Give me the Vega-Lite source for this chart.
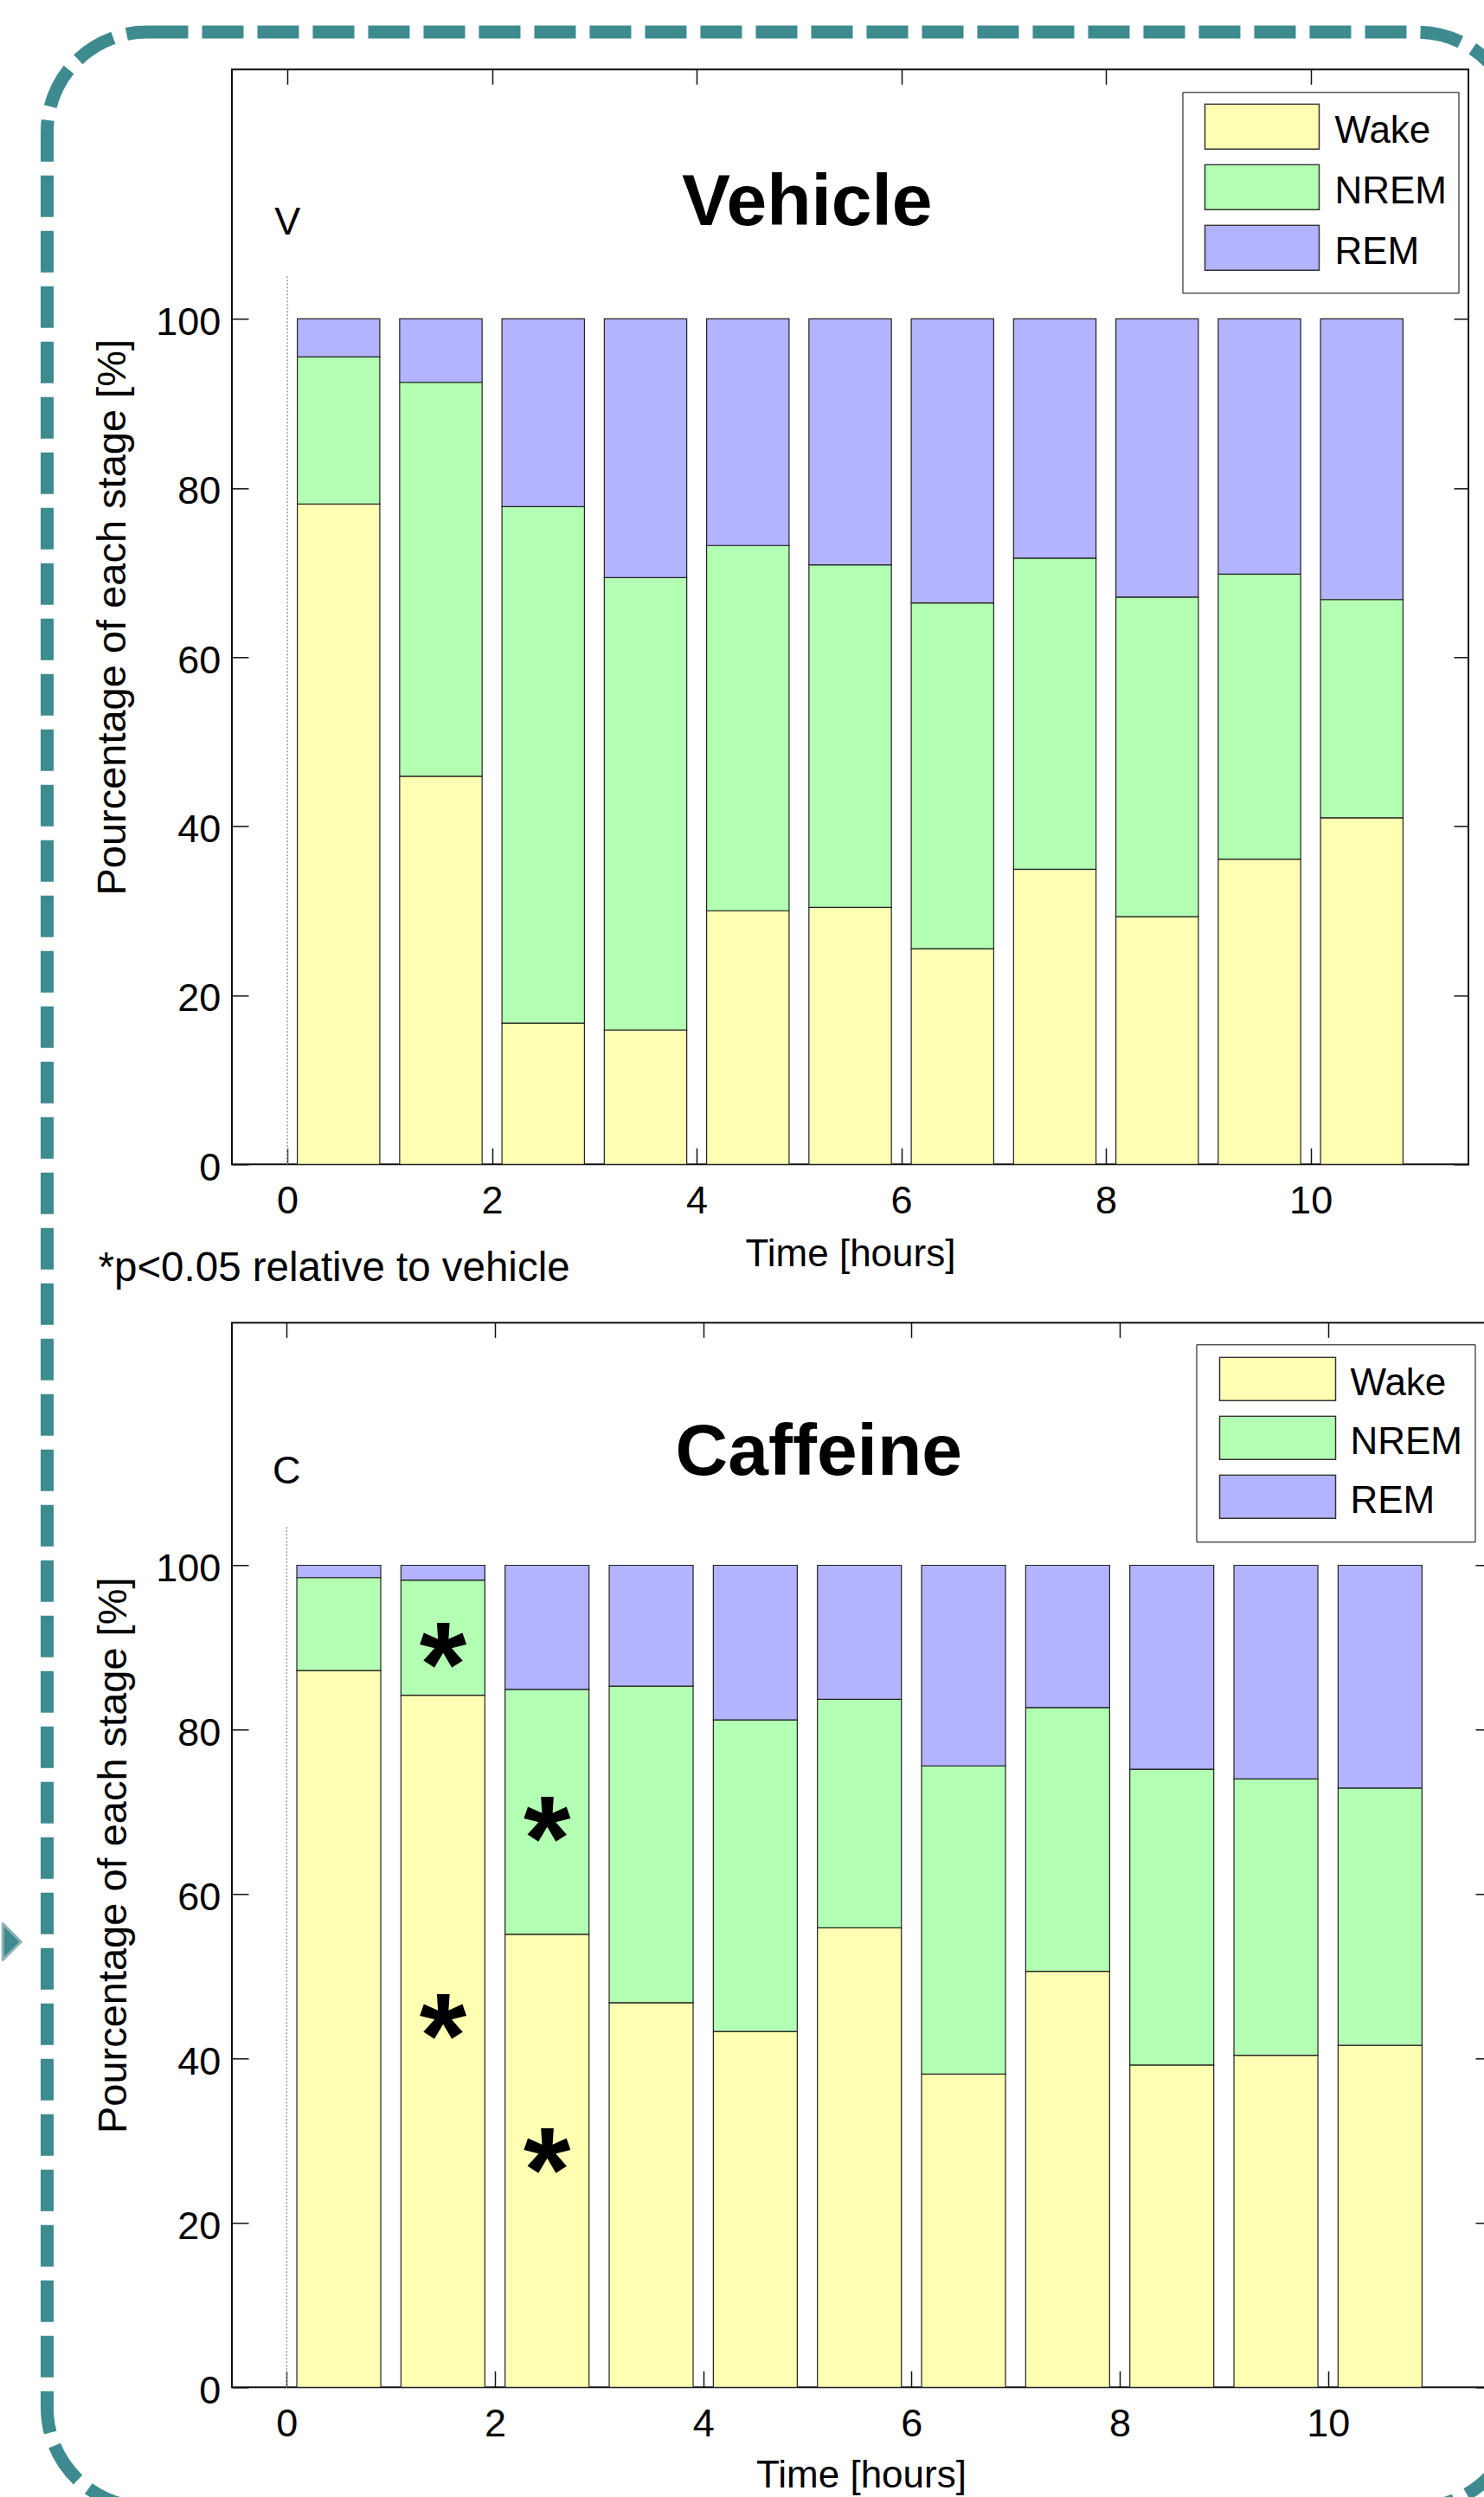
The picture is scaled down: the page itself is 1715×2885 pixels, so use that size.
{
  "$schema": "https://vega.github.io/schema/vega-lite/v6.json",
  "background": "white",
  "padding": {"left": 0, "top": 28.3, "right": 0, "bottom": 0},
  "autosize": {"type": "pad"},
  "bounds": "flush",
  "spacing": 183,
  "config": {
    "font": "Liberation Sans",
    "view": {"stroke": "#111", "strokeWidth": 2},
    "axis": {"labelFont": "Liberation Sans", "titleFont": "Liberation Sans", "labelColor": "black", "titleColor": "black", "titleFontWeight": "normal", "tickColor": "#111", "tickWidth": 1.5, "grid": false, "domain": false, "labelFontSize": 45, "labelFlush": false, "labelOverlap": false},
    "legend": {"labelFont": "Liberation Sans", "labelColor": "black"},
    "text": {"font": "Liberation Sans", "color": "black"}
  },
  "datasets": {
    "vehicle": [
      {"hour":0.5,"stage":"Wake","pct":78.1,"k":0},{"hour":0.5,"stage":"NREM","pct":17.4,"k":1},{"hour":0.5,"stage":"REM","pct":4.5,"k":2},
      {"hour":1.5,"stage":"Wake","pct":45.9,"k":0},{"hour":1.5,"stage":"NREM","pct":46.6,"k":1},{"hour":1.5,"stage":"REM","pct":7.5,"k":2},
      {"hour":2.5,"stage":"Wake","pct":16.7,"k":0},{"hour":2.5,"stage":"NREM","pct":61.1,"k":1},{"hour":2.5,"stage":"REM","pct":22.2,"k":2},
      {"hour":3.5,"stage":"Wake","pct":15.9,"k":0},{"hour":3.5,"stage":"NREM","pct":53.5,"k":1},{"hour":3.5,"stage":"REM","pct":30.6,"k":2},
      {"hour":4.5,"stage":"Wake","pct":30.0,"k":0},{"hour":4.5,"stage":"NREM","pct":43.2,"k":1},{"hour":4.5,"stage":"REM","pct":26.8,"k":2},
      {"hour":5.5,"stage":"Wake","pct":30.4,"k":0},{"hour":5.5,"stage":"NREM","pct":40.5,"k":1},{"hour":5.5,"stage":"REM","pct":29.1,"k":2},
      {"hour":6.5,"stage":"Wake","pct":25.5,"k":0},{"hour":6.5,"stage":"NREM","pct":40.9,"k":1},{"hour":6.5,"stage":"REM","pct":33.6,"k":2},
      {"hour":7.5,"stage":"Wake","pct":34.9,"k":0},{"hour":7.5,"stage":"NREM","pct":36.8,"k":1},{"hour":7.5,"stage":"REM","pct":28.3,"k":2},
      {"hour":8.5,"stage":"Wake","pct":29.3,"k":0},{"hour":8.5,"stage":"NREM","pct":37.8,"k":1},{"hour":8.5,"stage":"REM","pct":32.9,"k":2},
      {"hour":9.5,"stage":"Wake","pct":36.1,"k":0},{"hour":9.5,"stage":"NREM","pct":33.7,"k":1},{"hour":9.5,"stage":"REM","pct":30.2,"k":2},
      {"hour":10.5,"stage":"Wake","pct":41.0,"k":0},{"hour":10.5,"stage":"NREM","pct":25.8,"k":1},{"hour":10.5,"stage":"REM","pct":33.2,"k":2}
    ],
    "caffeine": [
      {"hour":0.5,"stage":"Wake","pct":87.2,"k":0},{"hour":0.5,"stage":"NREM","pct":11.3,"k":1},{"hour":0.5,"stage":"REM","pct":1.5,"k":2},
      {"hour":1.5,"stage":"Wake","pct":84.2,"k":0},{"hour":1.5,"stage":"NREM","pct":14.0,"k":1},{"hour":1.5,"stage":"REM","pct":1.8,"k":2},
      {"hour":2.5,"stage":"Wake","pct":55.1,"k":0},{"hour":2.5,"stage":"NREM","pct":29.8,"k":1},{"hour":2.5,"stage":"REM","pct":15.1,"k":2},
      {"hour":3.5,"stage":"Wake","pct":46.8,"k":0},{"hour":3.5,"stage":"NREM","pct":38.5,"k":1},{"hour":3.5,"stage":"REM","pct":14.7,"k":2},
      {"hour":4.5,"stage":"Wake","pct":43.3,"k":0},{"hour":4.5,"stage":"NREM","pct":37.9,"k":1},{"hour":4.5,"stage":"REM","pct":18.8,"k":2},
      {"hour":5.5,"stage":"Wake","pct":55.9,"k":0},{"hour":5.5,"stage":"NREM","pct":27.8,"k":1},{"hour":5.5,"stage":"REM","pct":16.3,"k":2},
      {"hour":6.5,"stage":"Wake","pct":38.1,"k":0},{"hour":6.5,"stage":"NREM","pct":37.5,"k":1},{"hour":6.5,"stage":"REM","pct":24.4,"k":2},
      {"hour":7.5,"stage":"Wake","pct":50.6,"k":0},{"hour":7.5,"stage":"NREM","pct":32.1,"k":1},{"hour":7.5,"stage":"REM","pct":17.3,"k":2},
      {"hour":8.5,"stage":"Wake","pct":39.2,"k":0},{"hour":8.5,"stage":"NREM","pct":36.0,"k":1},{"hour":8.5,"stage":"REM","pct":24.8,"k":2},
      {"hour":9.5,"stage":"Wake","pct":40.4,"k":0},{"hour":9.5,"stage":"NREM","pct":33.6,"k":1},{"hour":9.5,"stage":"REM","pct":26.0,"k":2},
      {"hour":10.5,"stage":"Wake","pct":41.6,"k":0},{"hour":10.5,"stage":"NREM","pct":31.3,"k":1},{"hour":10.5,"stage":"REM","pct":27.1,"k":2}
    ],
    "sig": [
      {"hour":1.5,"pos":90.2},{"hour":1.5,"pos":45.0},{"hour":2.5,"pos":69.0},{"hour":2.5,"pos":28.7}
    ]
  },
  "resolve": {"scale": {"color": "independent"}, "legend": {"color": "independent"}},
  "vconcat": [
    {
      "width": 1429,
      "height": 1265,
      "title": {"text": "*p<0.05 relative to vehicle", "orient": "bottom", "anchor": "start", "frame": "group", "dx": -154.5, "offset": 8.7, "baseline": "alphabetic", "fontSize": 47.5, "fontWeight": "normal", "font": "Liberation Sans", "color": "black"},
      "resolve": {"axis": {"x": "independent", "y": "independent"}},
      "layer": [
        {
          "data": {"values": [{}]},
          "mark": {"type": "rule", "color": "#999", "strokeWidth": 1.5, "strokeDash": [2, 2]},
          "encoding": {
            "x": {"datum": 0, "type": "quantitative", "scale": {"domain": [-0.5, 11.5], "nice": false, "zero": false}, "axis": null},
            "y": {"datum": 0, "type": "quantitative", "scale": {"domain": [0, 129.5], "nice": false, "zero": false}, "axis": null},
            "y2": {"datum": 105}
          }
        },
        {
          "data": {"name": "vehicle"},
          "mark": {"type": "bar", "width": 95.3, "stroke": "#222", "strokeWidth": 1.2},
          "encoding": {
            "x": {"field": "hour", "type": "quantitative", "scale": {"domain": [-0.5, 11.5], "nice": false, "zero": false},
                  "axis": {"orient": "bottom", "values": [0, 2, 4, 6, 8, 10], "title": "Time [hours]", "tickSize": -19, "labelPadding": 39, "titlePadding": 17, "titleFontSize": 44}},
            "y": {"field": "pct", "type": "quantitative", "stack": "zero", "scale": {"domain": [0, 129.5], "nice": false, "zero": false},
                  "axis": {"orient": "left", "values": [0, 20, 40, 60, 80, 100], "title": "Pourcentage of each stage [%]", "tickSize": -19, "labelPadding": 32.3, "labelOffset": 4, "titlePadding": 25, "titleFontSize": 47}},
            "color": {"field": "stage", "type": "nominal", "scale": {"domain": ["Wake", "NREM", "REM"], "range": ["#ffffb3", "#b3ffb3", "#b3b3ff"]},
                      "legend": {"title": null, "orient": "none", "legendX": 1098.5, "legendY": 26, "direction": "vertical", "symbolType": "M-1,-0.4848L1,-0.4848L1,0.303L-1,0.303Z", "symbolSize": 17424, "symbolStrokeColor": "#333", "symbolStrokeWidth": 1.5, "symbolOpacity": 1, "clipHeight": 66, "rowPadding": 4, "labelFontSize": 44, "labelOffset": 17, "symbolOffset": 12, "padding": 13, "strokeColor": "black", "fillColor": "white", "labelLimit": 400}},
            "order": {"field": "k", "type": "quantitative"}
          }
        },
        {
          "data": {"values": [{}]},
          "mark": {"type": "text", "fontSize": 45, "baseline": "alphabetic", "align": "center"},
          "encoding": {
            "x": {"datum": 0, "type": "quantitative", "scale": {"domain": [-0.5, 11.5], "nice": false, "zero": false},
                  "axis": {"orient": "top", "values": [0, 2, 4, 6, 8, 10], "labels": false, "title": null, "tickSize": -17}},
            "y": {"datum": 110, "type": "quantitative", "scale": {"domain": [0, 129.5], "nice": false, "zero": false},
                  "axis": {"orient": "right", "values": [0, 20, 40, 60, 80, 100], "labels": false, "title": null, "tickSize": -17}},
            "text": {"value": "V"}
          }
        },
        {
          "data": {"values": [{}]},
          "mark": {"type": "text", "fontSize": 84, "fontWeight": "bold", "baseline": "alphabetic", "align": "center"},
          "encoding": {
            "x": {"datum": 5.08, "type": "quantitative", "scale": {"domain": [-0.5, 11.5], "nice": false, "zero": false}, "axis": null},
            "y": {"datum": 111.1, "type": "quantitative", "scale": {"domain": [0, 129.5], "nice": false, "zero": false}, "axis": null},
            "text": {"value": "Vehicle"}
          }
        }
      ]
    },
    {
      "width": 1454,
      "height": 1230,
      "resolve": {"axis": {"x": "independent", "y": "independent"}},
      "layer": [
        {
          "data": {"values": [{}]},
          "mark": {"type": "rect", "fill": "white", "fillOpacity": 0, "stroke": "#3e8b8f", "strokeWidth": 15, "strokeDash": [48, 16], "cornerRadius": 115},
          "encoding": {
            "x": {"datum": -2.301, "type": "quantitative", "scale": {"domain": [-0.485, 11.515], "nice": false, "zero": false}, "axis": null},
            "x2": {"datum": 11.815},
            "y": {"datum": 286.5, "type": "quantitative", "scale": {"domain": [0, 129.5], "nice": false, "zero": false}, "axis": null},
            "y2": {"datum": -14.6}
          }
        },
        {
          "data": {"values": [{}]},
          "mark": {"type": "point", "shape": "M-0.5,-0.875L0.375,0L-0.5,0.875Z", "filled": true, "fill": "#3e8b8f", "stroke": "#8fb1b3", "strokeWidth": 3, "strokeJoin": "round", "size": 2304, "opacity": 1},
          "encoding": {
            "x": {"datum": -2.627, "type": "quantitative", "scale": {"domain": [-0.485, 11.515], "nice": false, "zero": false}, "axis": null},
            "y": {"datum": 54.2, "type": "quantitative", "scale": {"domain": [0, 129.5], "nice": false, "zero": false}, "axis": null}
          }
        },
        {
          "data": {"values": [{}]},
          "mark": {"type": "rule", "color": "#999", "strokeWidth": 1.5, "strokeDash": [2, 2]},
          "encoding": {
            "x": {"datum": 0, "type": "quantitative", "scale": {"domain": [-0.485, 11.515], "nice": false, "zero": false}, "axis": null},
            "y": {"datum": 0, "type": "quantitative", "scale": {"domain": [0, 129.5], "nice": false, "zero": false}, "axis": null},
            "y2": {"datum": 104.8}
          }
        },
        {
          "data": {"name": "caffeine"},
          "mark": {"type": "bar", "width": 97, "stroke": "#222", "strokeWidth": 1.2},
          "encoding": {
            "x": {"field": "hour", "type": "quantitative", "scale": {"domain": [-0.485, 11.515], "nice": false, "zero": false},
                  "axis": {"orient": "bottom", "values": [0, 2, 4, 6, 8, 10], "title": "Time [hours]", "tickSize": -19, "labelPadding": 39, "titlePadding": 15, "titleFontSize": 44}},
            "y": {"field": "pct", "type": "quantitative", "stack": "zero", "scale": {"domain": [0, 129.5], "nice": false, "zero": false},
                  "axis": {"orient": "left", "values": [0, 20, 40, 60, 80, 100], "title": "Pourcentage of each stage [%]", "tickSize": -19, "labelPadding": 32.3, "labelOffset": 4, "titlePadding": 24, "titleFontSize": 47}},
            "color": {"field": "stage", "type": "nominal", "scale": {"domain": ["Wake", "NREM", "REM"], "range": ["#ffffb3", "#b3ffb3", "#b3b3ff"]},
                      "legend": {"title": null, "orient": "none", "legendX": 1114.5, "legendY": 25, "direction": "vertical", "symbolType": "M-1,-0.4627L1,-0.4627L1,0.2836L-1,0.2836Z", "symbolSize": 17956, "symbolStrokeColor": "#333", "symbolStrokeWidth": 1.5, "symbolOpacity": 1, "clipHeight": 64, "rowPadding": 4, "labelFontSize": 44, "labelOffset": 16, "symbolOffset": 12, "padding": 14, "strokeColor": "black", "fillColor": "white", "labelLimit": 400}},
            "order": {"field": "k", "type": "quantitative"}
          }
        },
        {
          "data": {"values": [{}]},
          "mark": {"type": "text", "fontSize": 45, "baseline": "alphabetic", "align": "center"},
          "encoding": {
            "x": {"datum": 0, "type": "quantitative", "scale": {"domain": [-0.485, 11.515], "nice": false, "zero": false},
                  "axis": {"orient": "top", "values": [0, 2, 4, 6, 8, 10], "labels": false, "title": null, "tickSize": -17}},
            "y": {"datum": 110, "type": "quantitative", "scale": {"domain": [0, 129.5], "nice": false, "zero": false},
                  "axis": {"orient": "right", "values": [0, 20, 40, 60, 80, 100], "labels": false, "title": null, "tickSize": -17}},
            "text": {"value": "C"}
          }
        },
        {
          "data": {"values": [{}]},
          "mark": {"type": "text", "fontSize": 84, "fontWeight": "bold", "baseline": "alphabetic", "align": "center"},
          "encoding": {
            "x": {"datum": 5.11, "type": "quantitative", "scale": {"domain": [-0.485, 11.515], "nice": false, "zero": false}, "axis": null},
            "y": {"datum": 111, "type": "quantitative", "scale": {"domain": [0, 129.5], "nice": false, "zero": false}, "axis": null},
            "text": {"value": "Caffeine"}
          }
        },
        {
          "data": {"name": "sig"},
          "mark": {"type": "text", "fontSize": 140, "fontWeight": "bold", "baseline": "alphabetic", "align": "center", "dy": 69},
          "encoding": {
            "x": {"field": "hour", "type": "quantitative", "scale": {"domain": [-0.485, 11.515], "nice": false, "zero": false}, "axis": null},
            "y": {"field": "pos", "type": "quantitative", "scale": {"domain": [0, 129.5], "nice": false, "zero": false}, "axis": null},
            "text": {"value": "*"}
          }
        }
      ]
    }
  ]
}
